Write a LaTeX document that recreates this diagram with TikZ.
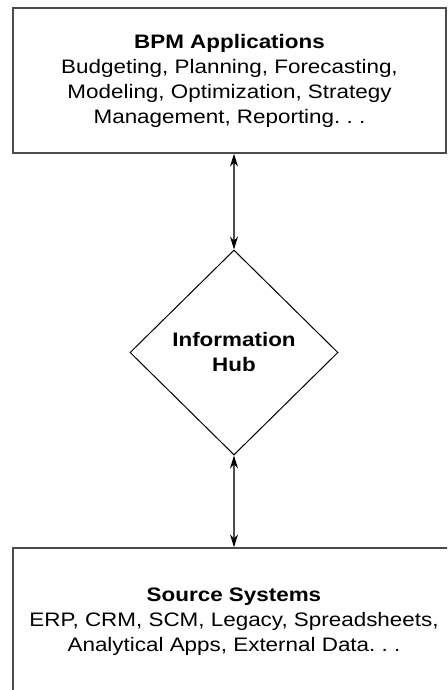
\documentclass[tikz,border=0pt]{standalone}
\usepackage{fontspec}
\setmainfont[FakeStretch=1.15]{Liberation Sans}
\usepackage{tikz}
\usetikzlibrary{positioning,arrows.meta,shapes.geometric}

\begin{document}
\begin{tikzpicture}[x=1pt,y=-1pt,>={Stealth[length=13pt,width=8pt,black]},
  box/.style={draw=black!70,line width=1.4pt,rectangle,align=center,inner sep=0pt,
    font=\fontsize{19.5}{25}\selectfont},
  hubshape/.style={draw=black,line width=1pt,diamond,align=center,inner sep=0pt,
    minimum width=208,minimum height=205,font=\fontsize{19.5}{25}\selectfont\bfseries},
  link/.style={<->,draw=black!70,line width=1.3pt}]
  \clip (0,0) rectangle (447,690);
  \node[box,minimum width=433,minimum height=145] (bpm) at (229.5,80.5)
    {\textbf{BPM Applications}\\ Budgeting, Planning, Forecasting,\\
     Modeling, Optimization, Strategy\\ Management, Reporting.~.~.};
  \node[hubshape] (hub) at (234,352.5) {Information\\ Hub};
  \node[box,minimum width=442,minimum height=148] (src) at (234,622)
    {\textbf{Source Systems}\\ ERP, CRM, SCM, Legacy, Spreadsheets,\\
     Analytical Apps, External Data.~.~.};
  \draw[link] (hub.north |- bpm.south) -- (hub.north);
  \draw[link] (hub.south) -- (hub.south |- src.north);
\end{tikzpicture}
\end{document}
